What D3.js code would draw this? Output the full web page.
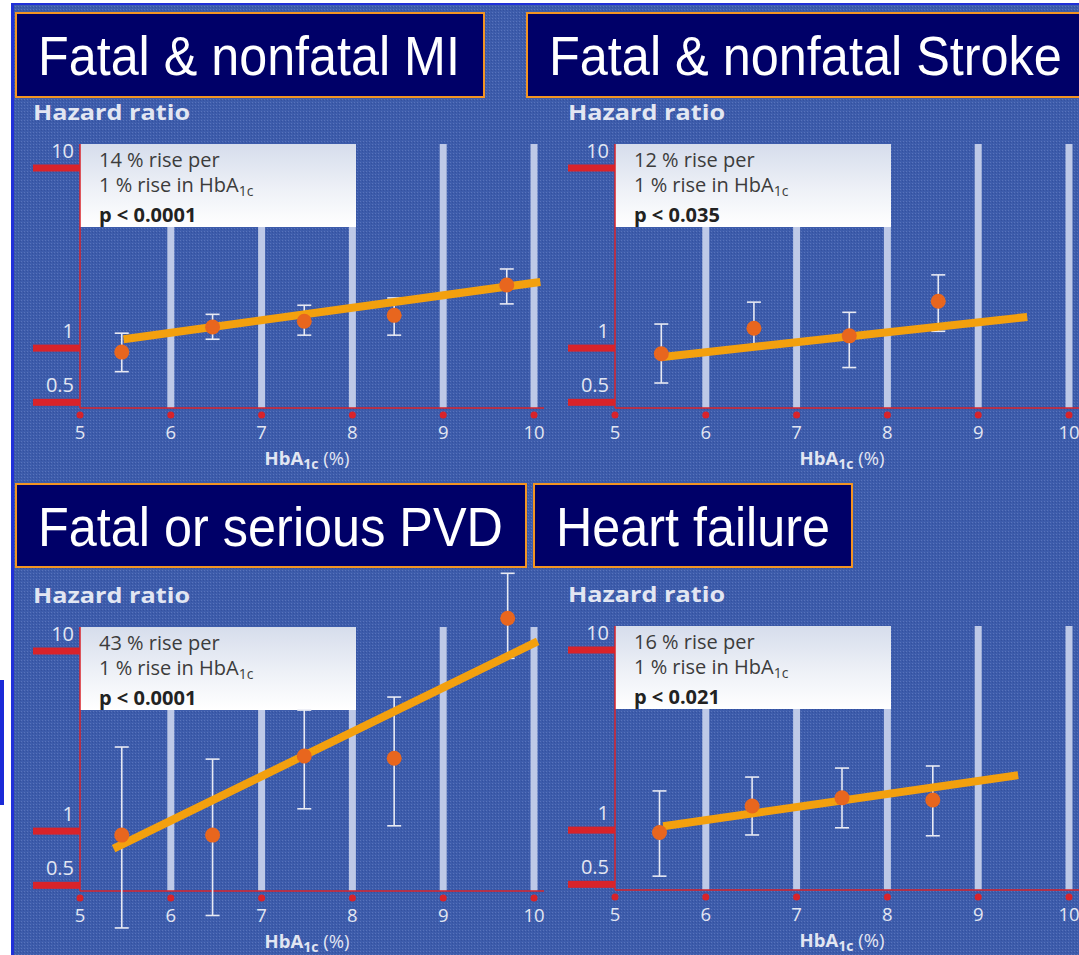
<!DOCTYPE html>
<html>
<head>
<meta charset="utf-8">
<script src="https://cdn.jsdelivr.net/npm/d3@7"></script>
<style>
  body { margin: 0; background: #fff; }
  svg { display: block; }
</style>
</head>
<body>
<svg id="chart"></svg>
<script>
// panel texts
var panelTitles = ["Fatal & nonfatal MI", "Fatal & nonfatal Stroke", "Fatal or serious PVD", "Heart failure"];
var riseLabels = ["14 % rise per", "12 % rise per", "43 % rise per", "16 % rise per"];
var pLabels = ["p < 0.0001", "p < 0.035", "p < 0.0001", "p < 0.021"];

// axes
var xTicks = [5, 6, 7, 8, 9, 10];
var yTicks = [0.5, 1, 10];

// fatal & nonfatal MI
var miX = [5.46, 6.46, 7.47, 8.46, 9.7];
var miHR = [0.95, 1.31, 1.41, 1.52, 2.24];
var miLow = [0.74, 1.12, 1.18, 1.18, 1.76];
var miHigh = [1.21, 1.54, 1.73, 1.9, 2.75];
var miFitX = [5.48, 10.07];
var miFitHR = [1.12, 2.33];

// fatal & nonfatal stroke
var strokeX = [5.51, 6.53, 7.58, 8.56];
var strokeHR = [0.93, 1.29, 1.17, 1.82];
var strokeLow = [0.64, 1.04, 0.78, 1.24];
var strokeHigh = [1.36, 1.8, 1.58, 2.55];
var strokeFitX = [5.5, 9.54];
var strokeFitHR = [0.89, 1.49];

// fatal or serious PVD
var pvdX = [5.46, 6.46, 7.47, 8.46, 9.71];
var pvdHR = [0.95, 0.95, 2.61, 2.54, 15.2];
var pvdLow = [0.29, 0.34, 1.33, 1.07, 9.1];
var pvdHigh = [2.93, 2.51, 4.7, 5.55, 27];
var pvdFitX = [5.37, 10.04];
var pvdFitHR = [0.8, 11.3];

// heart failure
var hfX = [5.49, 6.51, 7.5, 8.5];
var hfHR = [0.97, 1.36, 1.51, 1.47];
var hfLow = [0.555, 0.94, 1.03, 0.93];
var hfHigh = [1.65, 1.97, 2.21, 2.27];
var hfFitX = [5.53, 9.44];
var hfFitHR = [1.05, 2.02];

var width = 1079, height = 955;

var svg = d3.select("#chart").attr("width", width).attr("height", height);

var defs = svg.append("defs");
var grain = defs.append("pattern")
  .attr("id", "grain").attr("width", 3).attr("height", 3)
  .attr("patternUnits", "userSpaceOnUse");
grain.append("rect").attr("width", 3).attr("height", 3).attr("fill", "#3d5cab");
grain.append("rect").attr("width", 1).attr("height", 1).attr("fill", "#5873bb");
grain.append("rect").attr("x", 2).attr("y", 1).attr("width", 1).attr("height", 1).attr("fill", "#34519f");

var boxGrad = defs.append("linearGradient")
  .attr("id", "boxFill").attr("x1", 0).attr("y1", 0).attr("x2", 0).attr("y2", 1);
boxGrad.append("stop").attr("offset", "0%").attr("stop-color", "#d6ddec");
boxGrad.append("stop").attr("offset", "55%").attr("stop-color", "#eef1f7");
boxGrad.append("stop").attr("offset", "100%").attr("stop-color", "#ffffff");

// slide frame
svg.append("rect").attr("x", 11).attr("y", 3).attr("width", width - 11).attr("height", height - 3).attr("fill", "#2030d8");
svg.append("rect").attr("x", 14).attr("y", 5).attr("width", width - 14).attr("height", height - 5).attr("fill", "url(#grain)");
svg.append("rect").attr("x", 0).attr("y", 680).attr("width", 4).attr("height", 125).attr("fill", "#1a2ad8");

var panels = [
  { title: panelTitles[0], rise: riseLabels[0], p: pLabels[0], ox: 80, ay: 408,
    x: miX, hr: miHR, lo: miLow, hi: miHigh, fx: miFitX, fy: miFitHR,
    box: [16, 13, 468, 84], tx: 38, tlen: 422 },
  { title: panelTitles[1], rise: riseLabels[1], p: pLabels[1], ox: 615, ay: 408,
    x: strokeX, hr: strokeHR, lo: strokeLow, hi: strokeHigh, fx: strokeFitX, fy: strokeFitHR,
    box: [527, 13, 570, 84], tx: 549, tlen: 513 },
  { title: panelTitles[2], rise: riseLabels[2], p: pLabels[2], ox: 80, ay: 891,
    x: pvdX, hr: pvdHR, lo: pvdLow, hi: pvdHigh, fx: pvdFitX, fy: pvdFitHR,
    box: [16, 484, 510, 83], tx: 38, tlen: 465 },
  { title: panelTitles[3], rise: riseLabels[3], p: pLabels[3], ox: 615, ay: 890,
    x: hfX, hr: hfHR, lo: hfLow, hi: hfHigh, fx: hfFitX, fy: hfFitHR,
    box: [534, 484, 318, 83], tx: 556, tlen: 274 }
];

var red = "#d8232a", light = "#e2e6f2";
var smallFont = "'Open Sans', Lato, sans-serif";

panels.forEach(function (p) {
  var g = svg.append("g");
  var x = d3.scaleLinear().domain([5, 10]).range([p.ox, p.ox + 454]);
  var y = d3.scaleLog().domain([0.465, 10]).range([p.ay, p.ay - 240]);
  var top = p.ay - 264;

  // title box
  g.append("rect")
    .attr("x", p.box[0]).attr("y", p.box[1]).attr("width", p.box[2]).attr("height", p.box[3])
    .attr("fill", "#000068").attr("stroke", "#f39422").attr("stroke-width", 2);
  var title = g.append("text")
    .attr("fill", "#fff").attr("font-family", "'Liberation Sans', Arial, sans-serif")
    .attr("font-size", 55).text(p.title);
  // squeeze the title horizontally to the width it has in the slide
  var sx = p.tlen / title.node().getComputedTextLength();
  title.attr("transform", "translate(" + p.tx + "," + (p.box[1] + 62) + ") scale(" + sx + ",1)");

  g.append("text")
    .attr("x", p.ox - 47).attr("y", p.ay - 288)
    .attr("fill", light).attr("font-family", smallFont).attr("font-weight", "bold")
    .attr("font-size", 22).attr("textLength", 157).attr("lengthAdjust", "spacingAndGlyphs")
    .text("Hazard ratio");

  // pale vertical bars at each whole HbA1c value
  g.selectAll(".grid").data(xTicks.slice(1)).enter().append("rect")
    .attr("x", function (d) { return x(d) - 3.5; })
    .attr("y", top).attr("width", 7).attr("height", 264)
    .attr("fill", "#c9d3ec").attr("opacity", 0.92);

  // annotation box
  g.append("rect")
    .attr("x", p.ox).attr("y", top).attr("width", 276).attr("height", 83)
    .attr("fill", "url(#boxFill)");
  var ann = g.append("g").attr("font-family", smallFont).attr("font-size", 20);
  ann.append("text").attr("x", p.ox + 19).attr("y", p.ay - 241)
    .attr("fill", "#3c3c3c").text(p.rise);
  var t2 = ann.append("text").attr("x", p.ox + 19).attr("y", p.ay - 216).attr("fill", "#3c3c3c");
  t2.append("tspan").text("1 % rise in HbA");
  t2.append("tspan").attr("dy", 4).attr("font-size", 14).text("1c");
  ann.append("text").attr("x", p.ox + 19).attr("y", p.ay - 186)
    .attr("fill", "#222").attr("font-weight", "bold").attr("font-size", 20).text(p.p);

  // y axis: red bars with labels above
  g.selectAll(".ybar").data(yTicks).enter().append("rect")
    .attr("x", p.ox - 47).attr("y", function (d) { return y(d) - 3.5; })
    .attr("width", 47).attr("height", 7).attr("fill", red);
  g.selectAll(".ylab").data(yTicks).enter().append("text")
    .attr("x", p.ox - 6).attr("y", function (d) { return y(d) - 10; })
    .attr("text-anchor", "end").attr("fill", light)
    .attr("font-family", smallFont).attr("font-size", 20)
    .text(function (d) { return d; });

  g.append("line").attr("x1", p.ox).attr("x2", p.ox).attr("y1", top).attr("y2", p.ay)
    .attr("stroke", red).attr("stroke-width", 1.5);
  g.append("line").attr("x1", p.ox).attr("x2", p.ox + 464).attr("y1", p.ay).attr("y2", p.ay)
    .attr("stroke", red).attr("stroke-width", 1.5);

  // x axis dots and labels
  g.selectAll(".xdot").data(xTicks).enter().append("circle")
    .attr("cx", function (d) { return x(d); }).attr("cy", p.ay + 7).attr("r", 3.5)
    .attr("fill", red);
  g.selectAll(".xlab").data(xTicks).enter().append("text")
    .attr("x", function (d) { return x(d); }).attr("y", p.ay + 31)
    .attr("text-anchor", "middle").attr("fill", light)
    .attr("font-family", smallFont).attr("font-size", 18.5)
    .text(function (d) { return d; });
  var xt = g.append("text").attr("x", x(7.5)).attr("y", p.ay + 57)
    .attr("text-anchor", "middle").attr("fill", light)
    .attr("font-family", smallFont).attr("font-weight", "bold").attr("font-size", 18.5);
  xt.append("tspan").text("HbA");
  xt.append("tspan").attr("dy", 4).attr("font-size", 14).text("1c");
  xt.append("tspan").attr("dy", -4).attr("font-weight", "normal").text(" (%)");

  // error bars
  var pts = p.x.map(function (v, i) { return { x: v, hr: p.hr[i], lo: p.lo[i], hi: p.hi[i] }; });
  var eb = g.selectAll(".err").data(pts).enter().append("g")
    .attr("stroke", "#e8eaf3").attr("stroke-width", 1.6);
  eb.append("line")
    .attr("x1", function (d) { return x(d.x); }).attr("x2", function (d) { return x(d.x); })
    .attr("y1", function (d) { return y(d.lo); }).attr("y2", function (d) { return y(d.hi); });
  eb.append("line")
    .attr("x1", function (d) { return x(d.x) - 7; }).attr("x2", function (d) { return x(d.x) + 7; })
    .attr("y1", function (d) { return y(d.lo); }).attr("y2", function (d) { return y(d.lo); });
  eb.append("line")
    .attr("x1", function (d) { return x(d.x) - 7; }).attr("x2", function (d) { return x(d.x) + 7; })
    .attr("y1", function (d) { return y(d.hi); }).attr("y2", function (d) { return y(d.hi); });

  // fitted line
  var fit = p.fx.map(function (v, i) { return [v, p.fy[i]]; });
  g.append("path")
    .attr("d", d3.line().x(function (d) { return x(d[0]); }).y(function (d) { return y(d[1]); })(fit))
    .attr("fill", "none").attr("stroke", "#f3a00e").attr("stroke-width", 8);

  // points
  g.selectAll(".pt").data(pts).enter().append("circle")
    .attr("cx", function (d) { return x(d.x); }).attr("cy", function (d) { return y(d.hr); })
    .attr("r", 7.5).attr("fill", "#e8661e");
});
</script>
</body>
</html>
